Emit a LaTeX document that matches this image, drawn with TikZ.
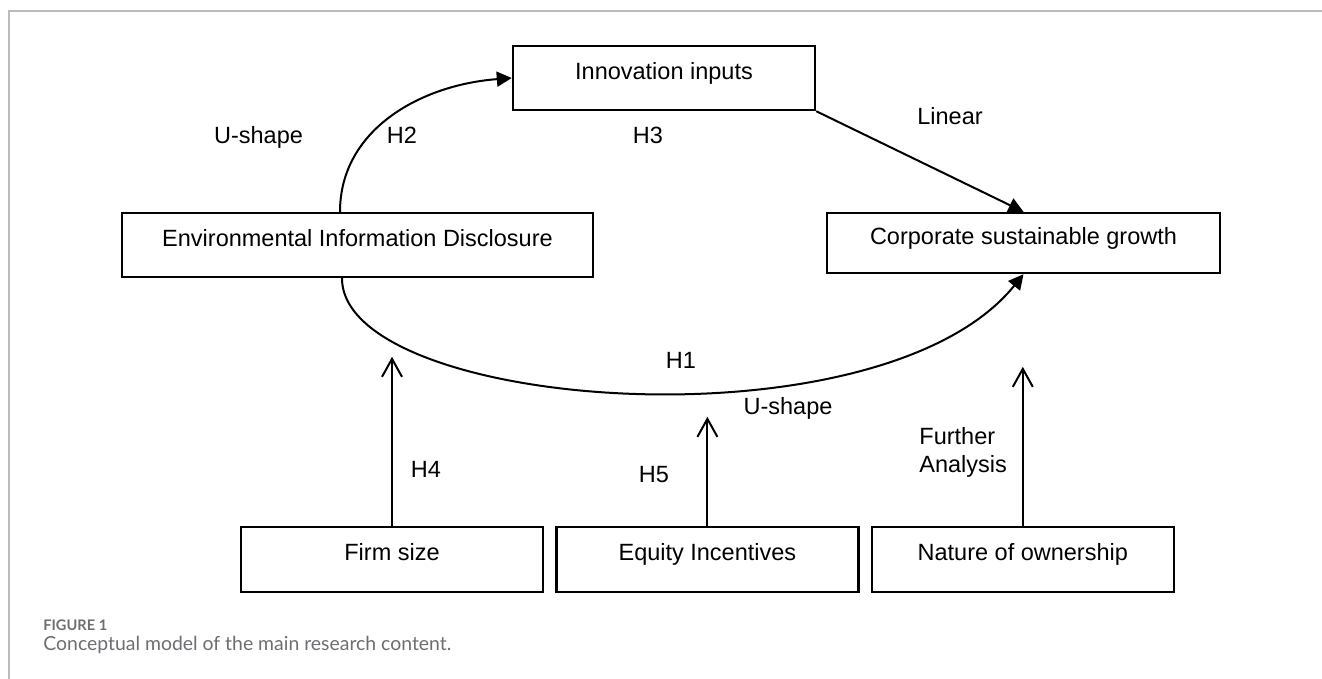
\documentclass[tikz,border=0pt]{standalone}
\usepackage{fontspec}
\setmainfont{Liberation Sans}
\newfontfamily\capfont{Lato}
\usepackage{tikz}
\usetikzlibrary{positioning,arrows.meta,calc}

\definecolor{framegray}{HTML}{BBBBBB}
\definecolor{captiongray}{HTML}{6D6E71}

\begin{document}
\begin{tikzpicture}[x=0.5pt,y=-0.5pt,
    box/.style={draw, line width=1.2pt, minimum width=151pt, minimum height=32pt, inner sep=0pt,
        text height=8.5pt, text depth=7.1pt, font=\fontsize{11.75}{14}\selectfont},
    lbl/.style={inner sep=0pt, text height=8.4pt, text depth=0pt, font=\fontsize{11.75}{14}\selectfont},
    link/.style={line width=1pt, -{Triangle[length=7.5pt,width=7.5pt]}},
    moderate/.style={line width=1pt, -{Straight Barb[length=9pt,width=10pt]}}]
\useasboundingbox (0,0) rectangle (1322,679);
\draw[framegray, line width=0.75pt] (1322,11) -- (9,11) -- (9,679);

% main chain
\node[box] (innov) at (664,78) {Innovation inputs};
\node[box, minimum width=235.5pt] (env) at (357.5,245) {Environmental Information Disclosure};
\node[box, minimum width=196.5pt, minimum height=30pt] (corp) at (1023.5,243) {Corporate sustainable growth};

% moderators
\node[box, minimum height=32.5pt] (firm) at (392,559.5) {Firm size};
\node[box, minimum height=32.5pt, right=5.5pt of firm] (equity) {Equity Incentives};
\node[box, minimum height=32.5pt, right=5.5pt of equity] (nature) {Nature of ownership};

\coordinate (envtop) at ([xshift=-8.75pt]env.north);
\coordinate (envbot) at ([xshift=-7.75pt]env.south);
\coordinate (firmtip) at ([yshift=84.5pt]firm.north);
\coordinate (equitytip) at ([yshift=54.5pt]equity.north);
\coordinate (naturetip) at ([yshift=79.5pt]nature.north);

\draw[link] (envtop) .. controls (340,130) and (420,85) .. (innov.west);
\draw[link] (innov.south east) -- (corp.north);
\draw[link] (envbot) .. controls (342,410) and (880,452) .. (corp.south);
\draw[moderate] (firm.north) -- (firmtip);
\draw[moderate] (equity.north) -- (equitytip);
\draw[moderate] (nature.north) -- (naturetip);

\node[lbl] (ushapeup) at (258.5,135) {U-shape};
\node[lbl] (hyptwo) at (402,135) {H2};
\node[lbl] (hypthree) at (648,135) {H3};
\node[lbl] (linear) at (950,116) {Linear};
\node[lbl] (hypone) at (681,360) {H1};
\node[lbl] (ushapedown) at (788,406) {U-shape};
\node[lbl] (hypfour) at (426,469) {H4};
\node[lbl] (hypfive) at (654,474) {H5};
\node[inner sep=0pt, align=left, anchor=north west, font=\fontsize{11.75}{14}\selectfont] (further) at (919,427) {Further\\Analysis};

% caption
\node[anchor=north west, inner sep=0pt, text=captiongray, font=\capfont\bfseries\fontsize{7.3}{8}\selectfont] (fignum) at (43,619) {FIGURE 1};
\node[anchor=north west, inner sep=0pt, text=captiongray, font=\capfont\fontsize{9.7}{11}\selectfont] (figcap) at (43,636) {Conceptual model of the main research content.};
\end{tikzpicture}
\end{document}
